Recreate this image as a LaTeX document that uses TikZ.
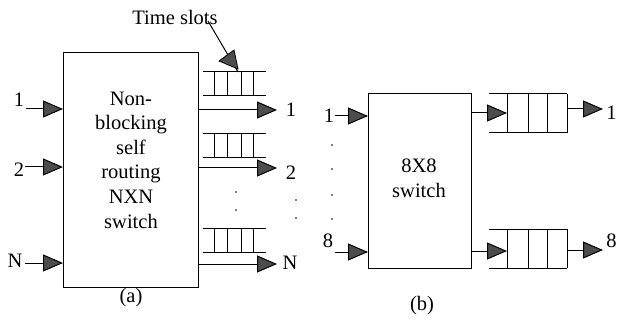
\documentclass[tikz,border=0pt]{standalone}
\usepackage{fontspec}
\setmainfont{Liberation Serif}
\usetikzlibrary{arrows.meta}
\begin{document}
\begin{tikzpicture}[x=1pt,y=-1pt,line width=1pt,
  txt/.style={font=\fontsize{20.5}{24.6}\selectfont,inner sep=0pt},
  arr/.style={-{Triangle[length=20pt,width=17pt,fill=black!70]}},
  boxst/.style={draw,line width=1.3pt,inner sep=0pt,anchor=north west},
  dotst/.style={fill=black,circle,inner sep=0pt,minimum size=1.8pt}]
\useasboundingbox (0,0) rectangle (617,320);
% ---------- (a) ----------
\node[boxst,minimum width=135pt,minimum height=235pt] (swa) at (63,52) {};
\node[txt,align=center] (swatxt) at (131,160) {Non-\\blocking\\self\\routing\\NXN\\switch};
\node[txt] (lblin1) at (19,100) {1};
\node[txt] (lblin2) at (19,170) {2};
\node[txt] (lblinN) at (15,261) {N};
\coordinate (ia1) at (26,109);
\coordinate (ia2) at (25,167);
\coordinate (iaN) at (25,263);
\draw[arr] (ia1) -- (swa.west |- ia1);
\draw[arr] (ia2) -- (swa.west |- ia2);
\draw[arr] (iaN) -- (swa.west |- iaN);
% output buffers
\foreach \t in {72,134,228}{
  \draw (203,\t) -- (266,\t);
  \draw (203,\t+24) -- (266,\t+24);
  \foreach \x in {214,227,241,253}{\draw (\x,\t) -- (\x,\t+24);}
}
\coordinate (oa1) at (277,110);
\coordinate (oa2) at (277,168);
\coordinate (oaN) at (277,264);
\draw[arr] (swa.east |- oa1) -- (oa1);
\draw[arr] (swa.east |- oa2) -- (oa2);
\draw[arr] (swa.east |- oaN) -- (oaN);
\node[txt] (lblout1) at (291,110) {1};
\node[txt] (lblout2) at (291,173) {2};
\node[txt] (lbloutN) at (290,263) {N};
\node[dotst] (da1) at (236,192) {};
\node[dotst] (da2) at (236,210) {};
\node[dotst] (da3) at (296,200) {};
\node[dotst] (da4) at (296,218) {};
% time slots
\node[txt] (ts) at (175,17) {Time slots};
\coordinate (tsA) at (208,21);
\coordinate (tsB) at (238,72);
\draw (tsA) -- (tsB);
\fill[black!70,draw=black,line width=0.8pt] (219,61) -- (234,50) -- (238,69) -- cycle;
\node[txt] (capa) at (131,298) {(a)};
% ---------- (b) ----------
\node[boxst,minimum width=103pt,minimum height=175pt] (swb) at (368,93) {};
\node[txt,align=center] (swbtxt) at (419,178) {8X8\\switch};
\node[txt] (lblb1) at (329,116) {1};
\node[txt] (lblb8) at (328,241) {8};
\coordinate (ib1) at (335,116);
\coordinate (ib8) at (335,252);
\draw[arr] (ib1) -- (swb.west |- ib1);
\draw[arr] (ib8) -- (swb.west |- ib8);
\foreach \y in {145,169,195,219}{\fill (332,\y) circle (0.9pt);}
% buffers (b)
\foreach \t in {94,229}{
  \draw (489,\t) -- (567,\t);
  \draw (489,\t+39) -- (567,\t+39);
  \foreach \x in {507,528,547,567}{\draw (\x,\t) -- (\x,\t+39);}
}
\coordinate (qb1) at (507,113);
\coordinate (qb8) at (507,251);
\draw[arr] (swb.east |- qb1) -- (qb1);
\draw[arr] (swb.east |- qb8) -- (qb8);
\coordinate (rb1s) at (567,109);
\coordinate (rb1) at (603,109);
\coordinate (rb8s) at (567,250);
\coordinate (rb8) at (603,250);
\draw[arr] (rb1s) -- (rb1);
\draw[arr] (rb8s) -- (rb8);
\node[txt,anchor=east] (lblbo1) at (617,113) {1};
\node[txt,anchor=east] (lblbo8) at (617,241) {8};
\node[txt] (capb) at (422,306) {(b)};
\end{tikzpicture}
\end{document}
